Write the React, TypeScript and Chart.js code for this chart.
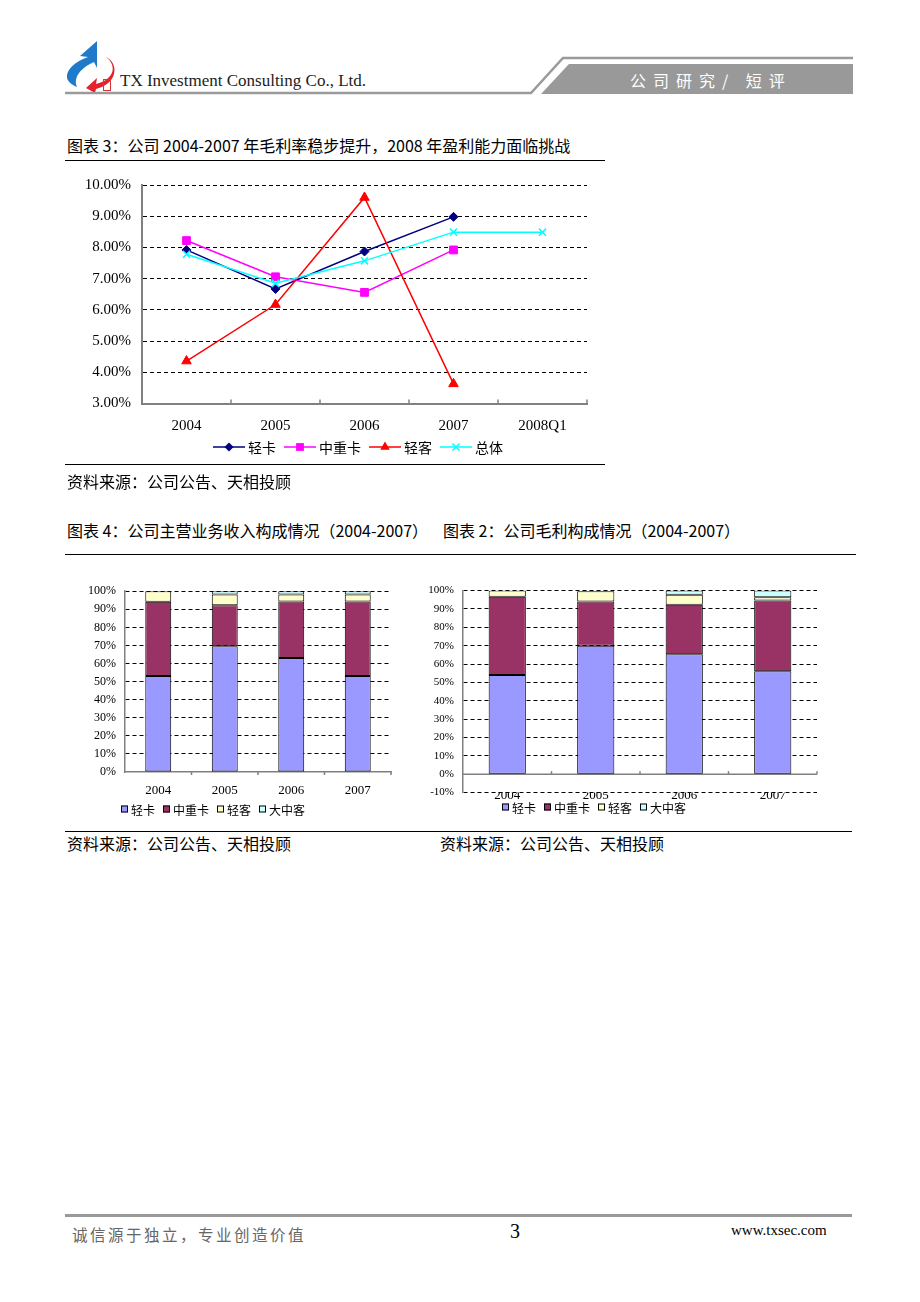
import React, { useEffect, useRef } from 'react';
import { Chart, registerables } from 'chart.js';

Chart.register(...registerables);

// ---------- DATA ----------
const lineCategories = ['2004', '2005', '2006', '2007', '2008Q1'];
const lineSeriesNames = ['轻卡', '中重卡', '轻客', '总体'];
const lightTruckMargin = [7.92, 6.67, 7.87, 8.98, null];
const mediumHeavyMargin = [8.22, 7.06, 6.56, 7.92, null];
const lightBusMargin = [4.36, 6.17, 9.6, 3.63, null];
const overallMargin = [7.78, 6.85, 7.57, 8.49, 8.49];

const barCategories = ['2004', '2005', '2006', '2007'];
const barSeriesNames = ['轻卡', '中重卡', '轻客', '大中客'];
// 主营业务收入构成 (%)
const revLightTruck = [53.1, 69.5, 63.1, 53.1];
const revMediumHeavy = [41.1, 22.7, 31.2, 41.2];
const revLightBus = [5.8, 6.0, 3.9, 3.9];
const revLargeBus = [0, 1.8, 1.8, 1.8];
// 毛利构成 (%)
const gpLightTruck = [54.0, 70.0, 65.3, 56.1];
const gpMediumHeavy = [42.6, 24.1, 27.0, 38.5];
const gpLightBus = [3.4, 5.5, 5.5, 1.8];
const gpLargeBus = [0, -0.5, 2.2, 3.6];

// ---------- STYLE ----------
const CJK = "'Noto Sans CJK SC', sans-serif";
const SERIF = "'Liberation Serif', serif";
const barColors = ['#9999FF', '#993366', '#FFFFCC', '#CCFFFF'];

function drawMarker(ctx: CanvasRenderingContext2D, style: string, x: number, y: number, r: number, color: string) {
  ctx.save();
  ctx.fillStyle = color;
  ctx.strokeStyle = color;
  ctx.lineWidth = 1.5;
  ctx.beginPath();
  if (style === 'rectRot') {
    ctx.moveTo(x, y - r); ctx.lineTo(x + r, y); ctx.lineTo(x, y + r); ctx.lineTo(x - r, y); ctx.closePath(); ctx.fill();
  } else if (style === 'rect') {
    const s = r * Math.SQRT1_2; ctx.rect(x - s, y - s, 2 * s, 2 * s); ctx.fill();
  } else if (style === 'triangle') {
    ctx.moveTo(x, y - r); ctx.lineTo(x + r * 0.866, y + r * 0.5); ctx.lineTo(x - r * 0.866, y + r * 0.5); ctx.closePath(); ctx.fill();
  } else if (style === 'crossRot') {
    const s = r * Math.SQRT1_2;
    ctx.moveTo(x - s, y - s); ctx.lineTo(x + s, y + s); ctx.moveTo(x + s, y - s); ctx.lineTo(x - s, y + s); ctx.stroke();
  }
  ctx.restore();
}

const customLegend = {
  id: 'customLegend',
  afterDraw(chart: any, _args: any, opts: any) {
    if (!opts || !opts.kind) return;
    const ctx: CanvasRenderingContext2D = chart.ctx;
    ctx.save();
    ctx.font = opts.font;
    ctx.textBaseline = 'middle';
    let x = opts.x;
    const y = opts.y;
    chart.data.datasets.forEach((ds: any) => {
      if (opts.kind === 'line') {
        ctx.strokeStyle = ds.borderColor;
        ctx.lineWidth = ds.borderWidth;
        ctx.beginPath(); ctx.moveTo(x, y); ctx.lineTo(x + opts.lineLen, y); ctx.stroke();
        drawMarker(ctx, ds.pointStyle, x + opts.lineLen / 2, y, ds.pointRadius, ds.borderColor);
        x += opts.lineLen + opts.gap;
      } else {
        const s = opts.box;
        ctx.fillStyle = ds.backgroundColor;
        ctx.fillRect(x, y - s / 2, s, s);
        ctx.strokeStyle = '#000'; ctx.lineWidth = 1;
        ctx.strokeRect(x + 0.5, y - s / 2 + 0.5, s - 1, s - 1);
        x += s + opts.gap;
      }
      ctx.fillStyle = '#000';
      ctx.fillText(ds.label, x, y + 1);
      x += ctx.measureText(ds.label).width + opts.itemGap;
    });
    ctx.restore();
  },
};

const axisDecor = {
  id: 'axisDecor',
  beforeDatasetsDraw(chart: any, _args: any, opts: any) {
    if (!opts || !opts.on) return;
    const { ctx, chartArea } = chart;
    const yScale = chart.scales.y;
    const yLine = opts.zeroLine ? yScale.getPixelForValue(0) : chartArea.bottom;
    ctx.save();
    ctx.strokeStyle = '#808080';
    ctx.lineWidth = opts.width;
    if (opts.zeroLine) {
      ctx.beginPath(); ctx.moveTo(chartArea.left, yLine); ctx.lineTo(chartArea.right, yLine); ctx.stroke();
    }
    const n = chart.data.labels.length;
    ctx.lineWidth = 1.5;
    for (let i = 1; i <= n; i++) {
      const px = chartArea.left + ((chartArea.right - chartArea.left) * i) / n;
      ctx.beginPath(); ctx.moveTo(px, yLine); ctx.lineTo(px, yLine + opts.dir * opts.len); ctx.stroke();
    }
    ctx.restore();
  },
};

function LineChart() {
  const ref = useRef<HTMLCanvasElement | null>(null);
  useEffect(() => {
    if (!ref.current) return;
    const mk = (label: string, data: any[], color: string, style: string, radius: number, order: number) => ({
      label, data, borderColor: color, backgroundColor: color, borderWidth: 1.5,
      pointStyle: style, pointRadius: radius, pointBorderWidth: style === 'crossRot' ? 1.5 : 1,
      pointBackgroundColor: color, pointBorderColor: color, tension: 0, spanGaps: false, order,
    });
    const chart = new Chart(ref.current, {
      type: 'line',
      data: {
        labels: lineCategories,
        datasets: [
          mk(lineSeriesNames[0], lightTruckMargin, '#000080', 'rectRot', 4.5, 4),
          mk(lineSeriesNames[1], mediumHeavyMargin, '#FF00FF', 'rect', 5.5, 3),
          mk(lineSeriesNames[2], lightBusMargin, '#FF0000', 'triangle', 5.5, 2),
          mk(lineSeriesNames[3], overallMargin, '#00FFFF', 'crossRot', 5, 1),
        ] as any,
      },
      options: {
        animation: false,
        responsive: false,
        devicePixelRatio: 1,
        layout: { padding: { left: 0, right: 18, top: 14, bottom: 0 } },
        plugins: {
          legend: { display: false },
          tooltip: { enabled: false },
          customLegend: { kind: 'line', x: 148, y: 282, lineLen: 32, gap: 3, itemGap: 8, font: `14px ${CJK}` },
          axisDecor: { on: true, zeroLine: false, dir: -1, len: 4, width: 2 },
        } as any,
        scales: {
          x: {
            offset: true,
            grid: { display: false, drawTicks: false, offset: true },
            border: { display: true, color: '#808080', width: 2 },
            ticks: { font: { family: 'Liberation Serif', size: 15 }, color: '#000', padding: 14 },
            afterFit: (s: any) => { s.height = 61.5; },
          },
          y: {
            min: 3, max: 10,
            ticks: {
              stepSize: 1,
              callback: (v: any) => Number(v).toFixed(2) + '%',
              font: { family: 'Liberation Serif', size: 15 }, color: '#000', padding: 11,
            },
            grid: {
              drawTicks: false, lineWidth: 1,
              color: (c: any) => (c.tick && c.tick.value === 3 ? 'rgba(0,0,0,0)' : '#000'),
            },
            border: { color: '#808080', width: 2, dash: [4, 3] },
            afterFit: (s: any) => { s.width = 77; },
          },
        } as any,
      },
      plugins: [customLegend, axisDecor],
    });
    return () => chart.destroy();
  }, []);
  return <canvas ref={ref} width={540} height={300} style={{ position: 'absolute', left: 65, top: 165, width: 540, height: 300 }} />;
}

type BarProps = {
  left: number; top: number; width: number; height: number;
  series: number[][]; pad: { right: number; top: number }; yMin: number; yWidth: number; xHeight: number;
  xPad: number; yFont: number; barPct: number; legendX: number; legendY: number; zeroLine: boolean;
};

function StackedBar(p: BarProps) {
  const ref = useRef<HTMLCanvasElement | null>(null);
  useEffect(() => {
    if (!ref.current) return;
    const chart = new Chart(ref.current, {
      type: 'bar',
      data: {
        labels: barCategories,
        datasets: p.series.map((d, i) => ({
          label: barSeriesNames[i], data: d, backgroundColor: barColors[i], borderColor: '#000', borderWidth: 1,
          borderSkipped: false,
          categoryPercentage: 1, barPercentage: p.barPct,
        })),
      },
      options: {
        animation: false,
        responsive: false,
        devicePixelRatio: 1,
        layout: { padding: { left: 0, right: p.pad.right, top: p.pad.top, bottom: 0 } },
        plugins: {
          legend: { display: false },
          tooltip: { enabled: false },
          customLegend: { kind: 'box', x: p.legendX, y: p.legendY, box: 7, gap: 3, itemGap: 8, font: `12px ${CJK}` },
          axisDecor: { on: true, zeroLine: p.zeroLine, dir: p.zeroLine ? -1 : 1, len: 3, width: 1.5 },
        } as any,
        scales: {
          x: {
            stacked: true,
            grid: { display: false, drawTicks: false },
            border: { display: !p.zeroLine, color: '#808080', width: 1.5 },
            ticks: { font: { family: 'Liberation Serif', size: 13 }, color: '#000', padding: p.xPad },
            afterFit: (s: any) => { s.height = p.xHeight; },
          },
          y: {
            stacked: true, min: p.yMin, max: 100,
            ticks: { stepSize: 10, callback: (v: any) => `${v}%`, font: { family: 'Liberation Serif', size: p.yFont }, color: '#000', padding: 9 },
            grid: {
              drawTicks: false, lineWidth: 1,
              color: (c: any) => (c.tick && c.tick.value === 0 ? 'rgba(0,0,0,0)' : '#000'),
            },
            border: { color: '#808080', width: 1.5, dash: [4, 3] },
            afterFit: (s: any) => { s.width = p.yWidth; },
          },
        } as any,
      },
      plugins: [customLegend, axisDecor],
    });
    return () => chart.destroy();
  }, []);
  return <canvas ref={ref} width={p.width} height={p.height} style={{ position: 'absolute', left: p.left, top: p.top, width: p.width, height: p.height }} />;
}

const txt = (left: number, cy: number, size: number, content: string, extra: React.CSSProperties = {}) => (
  <div style={{ position: 'absolute', left, top: cy - 12, height: 24, lineHeight: '24px', fontSize: size, fontFamily: CJK, color: '#000', whiteSpace: 'nowrap', ...extra }}>{content}</div>
);

const hline = (x1: number, x2: number, y: number, h = 1, color = '#000') => (
  <div style={{ position: 'absolute', left: x1, top: y, width: x2 - x1, height: h, background: color }} />
);

export default function App() {
  return (
    <div style={{ position: 'absolute', left: 0, top: 0, width: 920, height: 1302, overflow: 'hidden', background: '#fff' }}>
      <svg width={920} height={110} style={{ position: 'absolute', left: 0, top: 0 }}>
        <path d="M97,41 L80,56 L88,57 C74,62 66,70 67,78 C68,82 72,85 77,87 C73,78 80,68 94,62 L97,68 Z" fill="#1F7BC9" />
        <path d="M106,57 C113,62 115,70 110,76 C106,81 100,83 96,84 L97,78 L86,88 L95,93 L96,89 C104,87 112,82 114,74 C116,66 112,60 106,57 Z" fill="#E3222B" />
        <rect x={103.5} y={79.5} width={7} height={11} fill="none" stroke="#D33" strokeWidth={1} />
        <polyline points="65,93 531,93 563,58 853,58" fill="none" stroke="#9a9a9a" strokeWidth={2.5} />
        <polygon points="541,94 569,64 853,64 853,94" fill="#999" />
      </svg>
      <div style={{ position: 'absolute', left: 120, top: 70, lineHeight: '22px', fontSize: 17, fontFamily: SERIF, color: '#222', whiteSpace: 'nowrap' }}>
        TX Investment Consulting Co., Ltd.
      </div>
      {txt(630, 80, 16, '公司研究/ 短评', { color: '#fff', letterSpacing: 7 })}

      {txt(67, 145, 16, '图表 3：公司 2004-2007 年毛利率稳步提升，2008 年盈利能力面临挑战')}
      {hline(65, 605, 160)}
      <LineChart />
      {hline(65, 605, 464)}
      {txt(67, 481, 16, '资料来源：公司公告、天相投顾')}

      {txt(67, 530, 16, '图表 4：公司主营业务收入构成情况（2004-2007）')}
      {txt(443, 530, 16, '图表 2：公司毛利构成情况（2004-2007）')}
      {hline(65, 856, 554)}
      <StackedBar
        left={65} top={575} width={355} height={250}
        series={[revLightTruck, revMediumHeavy, revLightBus, revLargeBus]}
        pad={{ right: 29, top: 15 }} yMin={0} yWidth={60} xHeight={53} xPad={10.5} yFont={12}
        barPct={0.39} legendX={56} legendY={234} zeroLine={false}
      />
      <StackedBar
        left={420} top={575} width={440} height={250}
        series={[gpLightTruck, gpMediumHeavy, gpLightBus, gpLargeBus]}
        pad={{ right: 43, top: 14 }} yMin={-10} yWidth={43} xHeight={32.5} xPad={-5} yFont={11}
        barPct={0.42} legendX={82} legendY={232} zeroLine={true}
      />
      {hline(65, 852, 831)}
      {txt(67, 843, 16, '资料来源：公司公告、天相投顾')}
      {txt(440, 843, 16, '资料来源：公司公告、天相投顾')}

      {hline(65, 852, 1214, 3, '#999')}
      {txt(72, 1234, 15.5, '诚信源于独立，专业创造价值', { color: '#666', letterSpacing: 2.5 })}
      <div style={{ position: 'absolute', left: 510, top: 1219, lineHeight: '24px', fontSize: 20, fontFamily: SERIF, color: '#000' }}>3</div>
      <div style={{ position: 'absolute', left: 731, top: 1220, lineHeight: '20px', fontSize: 15, fontFamily: SERIF, color: '#000' }}>www.txsec.com</div>
    </div>
  );
}
